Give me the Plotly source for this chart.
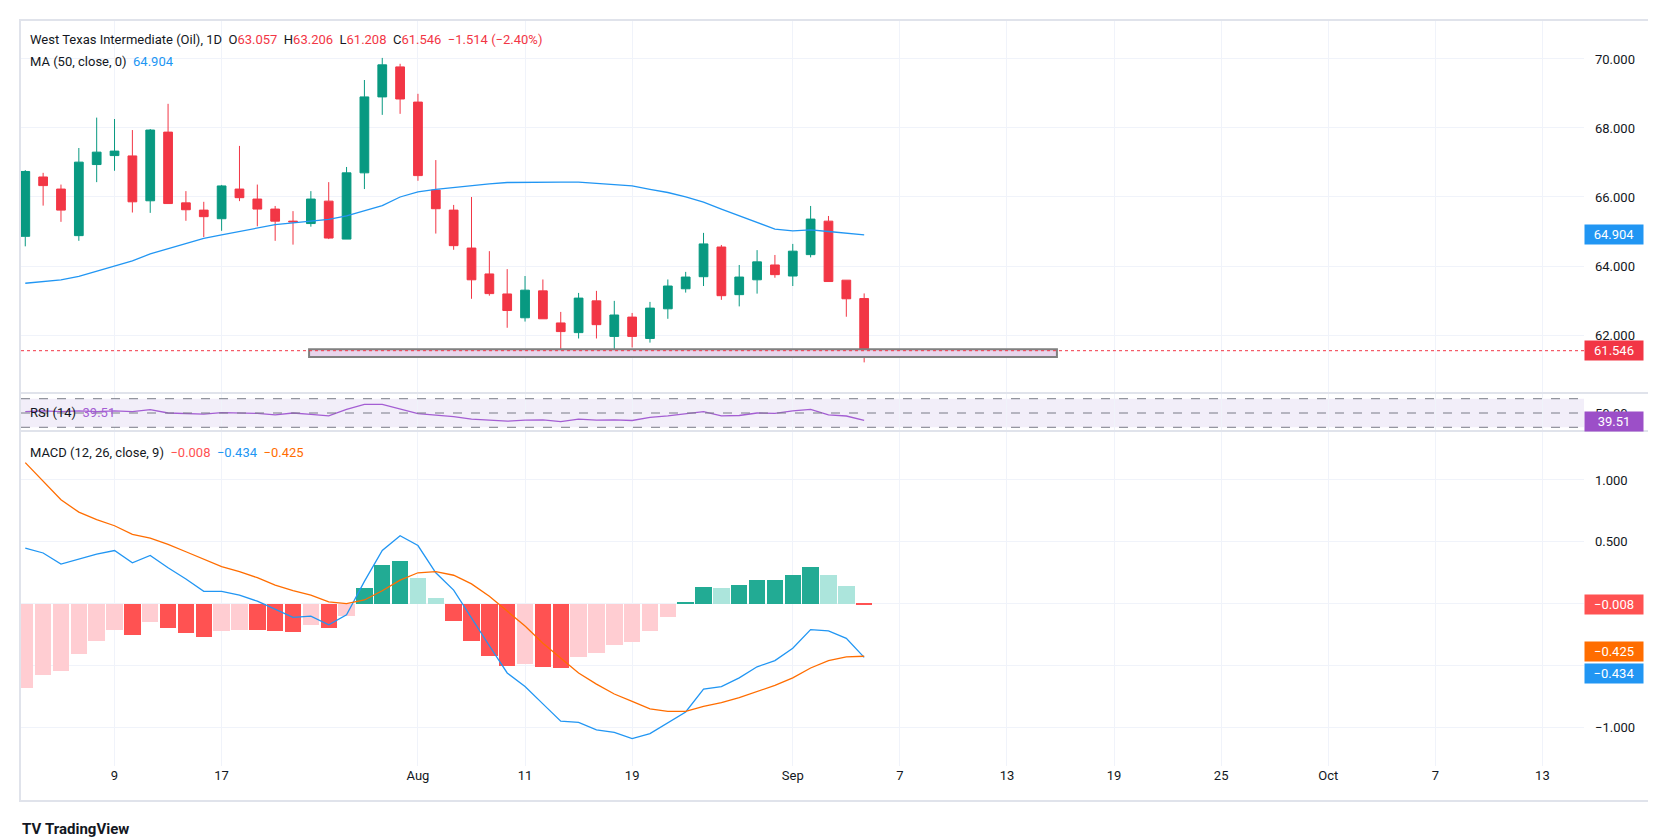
import plotly.graph_objects as go
from plotly.subplots import make_subplots

# Data (daily bars, 1 Jul - 5 Sep 2025)
OPEN  = [64.86, 66.58, 66.23, 64.88, 66.94, 67.20, 67.19, 65.89, 67.88, 65.83, 65.62, 65.37,
         66.23, 65.94, 65.65, 65.30, 65.23, 65.88, 64.78, 66.70, 68.90, 69.77, 68.75, 66.20,
         65.62, 64.52, 63.77, 63.19, 62.50, 63.28, 62.35, 62.07, 62.99, 61.96, 62.52, 61.90,
         62.76, 63.34, 63.69, 64.55, 63.17, 63.60, 64.03, 63.71, 64.33, 65.30, 63.59, 63.057]
HIGH  = [66.78, 66.70, 66.36, 67.42, 68.30, 68.26, 67.94, 67.97, 68.70, 66.17, 65.86, 66.35,
         67.48, 66.36, 65.74, 65.59, 66.17, 66.43, 66.87, 69.39, 70.03, 69.86, 68.99, 67.07,
         65.77, 66.00, 64.43, 63.91, 63.71, 63.61, 62.67, 63.22, 63.28, 62.99, 62.64, 62.96,
         63.61, 63.83, 64.96, 64.61, 64.03, 64.46, 64.32, 64.64, 65.74, 65.45, 63.59, 63.206]
LOW   = [64.57, 65.75, 65.28, 64.73, 66.43, 66.76, 65.55, 65.54, 65.81, 65.31, 64.84, 65.02,
         65.88, 65.15, 64.73, 64.62, 65.14, 64.78, 64.78, 66.23, 68.38, 68.41, 66.47, 64.94,
         64.47, 63.05, 63.14, 62.21, 62.39, 62.47, 61.37, 61.90, 61.90, 61.47, 61.64, 61.78,
         62.47, 63.23, 63.42, 63.02, 62.83, 63.20, 63.66, 63.42, 64.25, 63.54, 62.53, 61.208]
CLOSE = [66.74, 66.33, 65.62, 67.01, 67.30, 67.33, 65.86, 67.94, 65.81, 65.63, 65.43, 66.32,
         65.98, 65.65, 65.30, 65.28, 65.94, 64.81, 66.70, 68.90, 69.83, 68.84, 66.62, 65.66,
         64.59, 63.60, 63.20, 62.71, 63.30, 62.47, 62.10, 63.07, 62.30, 62.58, 61.96, 62.78,
         63.42, 63.68, 64.64, 63.14, 63.68, 64.12, 63.75, 64.43, 65.36, 63.55, 63.05, 61.546]
MA50  = [63.50, 63.55, 63.60, 63.70, 63.85, 64.00, 64.15, 64.35, 64.50, 64.65, 64.80, 64.90,
         65.00, 65.10, 65.20, 65.25, 65.30, 65.35, 65.45, 65.60, 65.75, 66.00, 66.15, 66.22,
         66.28, 66.33, 66.38, 66.42, 66.43, 66.43, 66.43, 66.43, 66.40, 66.36, 66.32, 66.22,
         66.13, 66.00, 65.85, 65.65, 65.45, 65.25, 65.07, 65.02, 65.05, 65.00, 64.95, 64.904]
RSI   = [52, 53, 52, 53, 52, 53, 52, 54.6, 50, 49, 48.5, 50.5, 50, 49.5, 47.5, 50, 48, 46,
         55, 62, 62, 56, 49, 47, 45, 41.5, 40, 38.5, 40, 40.5, 38, 41.5, 40, 40.5, 39.5, 44,
         46, 49, 52, 46, 46.5, 50, 49.5, 53, 55, 47.5, 45.8, 39.51]
MACD  = [0.45, 0.41, 0.32, 0.36, 0.40, 0.43, 0.33, 0.39, 0.29, 0.20, 0.10, 0.10, 0.07, 0.02,
         -0.045, -0.11, -0.10, -0.17, -0.09, 0.18, 0.43, 0.55, 0.47, 0.25, 0.11, -0.12, -0.34,
         -0.56, -0.67, -0.81, -0.95, -0.96, -1.02, -1.04, -1.09, -1.05, -0.96, -0.875, -0.69,
         -0.67, -0.60, -0.51, -0.46, -0.36, -0.21, -0.22, -0.28, -0.434]
SIGNAL = [1.14, 0.99, 0.84, 0.74, 0.68, 0.63, 0.56, 0.53, 0.48, 0.42, 0.36, 0.30, 0.26, 0.21,
          0.15, 0.105, 0.07, 0.014, 0.0, 0.03, 0.105, 0.19, 0.25, 0.26, 0.23, 0.16, 0.06, -0.06,
          -0.18, -0.32, -0.44, -0.56, -0.65, -0.73, -0.79, -0.85, -0.87, -0.87, -0.83, -0.80,
          -0.76, -0.71, -0.66, -0.60, -0.52, -0.46, -0.43, -0.425]
HIST  = [-0.68, -0.58, -0.54, -0.41, -0.30, -0.21, -0.25, -0.15, -0.20, -0.24, -0.27, -0.22,
         -0.21, -0.215, -0.22, -0.23, -0.17, -0.20, -0.10, 0.13, 0.31, 0.345, 0.21, 0.05, -0.14,
         -0.30, -0.42, -0.50, -0.49, -0.51, -0.52, -0.43, -0.40, -0.33, -0.31, -0.22, -0.105,
         0.01, 0.135, 0.13, 0.15, 0.19, 0.195, 0.23, 0.30, 0.23, 0.14, -0.008]

TICK_POS    = [5, 11, 22, 28, 34, 43, 49, 55, 61, 67, 73, 79, 85]
TICK_LABELS = ["9", "17", "Aug", "11", "19", "Sep", "7", "13", "19", "25", "Oct", "7", "13"]

ZONE = dict(x0=15.9, x1=57.8, y0=61.36, y1=61.59)

UP, DOWN = "#089981", "#f23645"
FONT = "Roboto, Noto Sans, Arial, sans-serif"
TXT = "#131722"

# Layout in pixels
W, H = 1656, 838
L, R, T, B = 13, 1576, 13, 758
def px_x(p): return (p - L) / (R - L)
def px_y(p): return (B - p) / (B - T)

x = list(range(len(CLOSE)))

fig = make_subplots(rows=3, cols=1, shared_xaxes=True, vertical_spacing=0)

fig.add_trace(go.Candlestick(
    x=x, open=OPEN, high=HIGH, low=LOW, close=CLOSE,
    increasing=dict(line=dict(color=UP, width=1), fillcolor=UP),
    decreasing=dict(line=dict(color=DOWN, width=1), fillcolor=DOWN),
    whiskerwidth=0, showlegend=False, hoverinfo="skip",
), row=1, col=1)
fig.add_trace(go.Scatter(x=x, y=MA50, mode="lines", line=dict(color="#2196f3", width=1.3),
                         showlegend=False), row=1, col=1)

fig.add_trace(go.Scatter(x=x, y=RSI, mode="lines", line=dict(color="#a45ed3", width=1.3),
                         showlegend=False), row=2, col=1)

hist_colors = []
for i, h in enumerate(HIST):
    prev = HIST[i - 1] if i > 0 else h - 1
    if h >= 0:
        hist_colors.append("#22ab94" if h > prev else "#ace5dc")
    else:
        hist_colors.append("#ff5252" if h < prev else "#ffcdd2")
fig.add_trace(go.Bar(x=x, y=HIST, marker=dict(color=hist_colors, line_width=0), width=0.92,
                     showlegend=False), row=3, col=1)
fig.add_trace(go.Scatter(x=x, y=MACD, mode="lines", line=dict(color="#2196f3", width=1.3),
                         showlegend=False), row=3, col=1)
fig.add_trace(go.Scatter(x=x, y=SIGNAL, mode="lines", line=dict(color="#ff6d00", width=1.3),
                         showlegend=False), row=3, col=1)

d_price = [px_y(385), 1]
d_rsi   = [px_y(423), px_y(385)]
d_macd  = [0, px_y(423)]

grid = "#f0f3fa"
axis_font = dict(family=FONT, size=13, color=TXT)
fig.update_xaxes(range=[-0.24, 87.33], tickvals=TICK_POS, ticktext=TICK_LABELS,
                 showgrid=True, gridcolor=grid, zeroline=False, showline=False,
                 rangeslider_visible=False, tickfont=axis_font, ticks="")
fig.update_xaxes(showticklabels=False, row=1, col=1)
fig.update_xaxes(showticklabels=False, row=2, col=1)

# 0.000 / -0.500 labels sit under the value badges in the reference, so leave them blank
fig.update_layout(
    yaxis=dict(domain=d_price, range=[60.32, 71.10], side="right",
               tickvals=[62, 64, 66, 68, 70], tickformat=".3f"),
    yaxis2=dict(domain=d_rsi, range=[24.8, 78], side="right",
                tickvals=[50], ticktext=["50.00"], showgrid=False),
    yaxis3=dict(domain=d_macd, range=[-1.312, 1.396], side="right",
                tickvals=[1, 0.5, 0, -0.5, -1],
                ticktext=["1.000", "0.500", "", "", "−1.000"]),
)
fig.update_yaxes(gridcolor=grid, zeroline=False, showline=False, tickfont=axis_font, ticks="",
                 ticklabelstandoff=10)

shapes = [
    # RSI band
    dict(type="rect", xref="x2 domain", yref="y2", x0=0, x1=1, y0=30, y1=70,
         fillcolor="rgba(126,87,194,0.1)", line_width=0, layer="below"),
    # support zone
    dict(type="rect", xref="x", yref="y", **ZONE, fillcolor="#e8d5ec",
         line=dict(color="#808080", width=2)),
    dict(type="line", xref="x domain", yref="y", x0=0, x1=1, y0=CLOSE[-1], y1=CLOSE[-1],
         line=dict(color=DOWN, width=1, dash="dot")),
    # pane separators and frame
    dict(type="line", xref="paper", yref="paper", x0=px_x(12), x1=px_x(1643),
         y0=px_y(385), y1=px_y(385), line=dict(color="#e0e3eb", width=2)),
    dict(type="line", xref="paper", yref="paper", x0=px_x(12), x1=px_x(1643),
         y0=px_y(423), y1=px_y(423), line=dict(color="#e0e3eb", width=2)),
    dict(type="rect", xref="paper", yref="paper", x0=px_x(12), x1=px_x(1643),
         y0=px_y(793), y1=px_y(12), line=dict(color="#e0e3eb", width=2)),
]
for lvl in [70, 50, 30]:
    shapes.append(dict(type="line", xref="x2 domain", yref="y2", x0=0, x1=1, y0=lvl, y1=lvl,
                       line=dict(color="#787b86", width=1, dash="dash")))
fig.update_layout(shapes=shapes)

def fmt(v, n=3):
    return f"{v:.{n}f}".replace("-", "−")

red = DOWN
title = (f"West Texas Intermediate (Oil), 1D&nbsp;&nbsp;O<span style='color:{red}'>{OPEN[-1]:.3f}</span>"
         f"&nbsp;&nbsp;H<span style='color:{red}'>{HIGH[-1]:.3f}</span>"
         f"&nbsp;&nbsp;L<span style='color:{red}'>{LOW[-1]:.3f}</span>"
         f"&nbsp;&nbsp;C<span style='color:{red}'>{CLOSE[-1]:.3f}</span>"
         f"&nbsp;&nbsp;<span style='color:{red}'>−1.514 (−2.40%)</span>")
anns = [
    dict(text=title, x=px_x(20), y=px_y(31)),
    dict(text=f"MA (50, close, 0)&nbsp;&nbsp;<span style='color:#2196f3'>{MA50[-1]:.3f}</span>",
         x=px_x(20), y=px_y(53)),
    dict(text=f"RSI (14)&nbsp;&nbsp;<span style='color:#a45ed3'>{RSI[-1]:.2f}</span>",
         x=px_x(20), y=px_y(404)),
    dict(text=(f"MACD (12, 26, close, 9)&nbsp;&nbsp;<span style='color:#ff5252'>{fmt(HIST[-1])}</span>"
               f"&nbsp;&nbsp;<span style='color:#2196f3'>{fmt(MACD[-1])}</span>"
               f"&nbsp;&nbsp;<span style='color:#ff6d00'>{fmt(SIGNAL[-1])}</span>"),
         x=px_x(20), y=px_y(444)),
    dict(text="<b>TV</b> <b>TradingView</b>", x=px_x(12), y=px_y(821),
         font=dict(family=FONT, size=15, color=TXT)),
]
for a in anns:
    a.update(xref="paper", yref="paper", xanchor="left", yanchor="middle", showarrow=False)
    a.setdefault("font", dict(family=FONT, size=13, color=TXT))

def badge(val, text, color, yref, shift=0):
    return dict(text=text, x=1, xref="paper", xanchor="left", y=val, yref=yref,
                yanchor="middle", yshift=shift, showarrow=False, bgcolor=color,
                width=56, height=17, borderpad=1, align="center",
                font=dict(family=FONT, size=13, color="white"))

anns += [
    badge(MA50[-1], f"{MA50[-1]:.3f}", "#2196f3", "y"),
    badge(CLOSE[-1], f"{CLOSE[-1]:.3f}", DOWN, "y"),
    badge(RSI[-1], f"{RSI[-1]:.2f}", "#9c4fc8", "y2", -1),
    badge(HIST[-1], fmt(HIST[-1]), "#ff5252", "y3"),
    badge(SIGNAL[-1], fmt(SIGNAL[-1]), "#ff6d00", "y3", 5),
    badge(MACD[-1], fmt(MACD[-1]), "#2196f3", "y3", -16),
]
fig.update_layout(
    annotations=anns,
    width=W, height=H, autosize=False,
    margin=dict(l=L, r=W - R, t=T, b=H - B),
    plot_bgcolor="white", paper_bgcolor="white",
    font=dict(family=FONT, size=13, color=TXT),
    showlegend=False, bargap=0,
)

fig.write_html("out.html")
